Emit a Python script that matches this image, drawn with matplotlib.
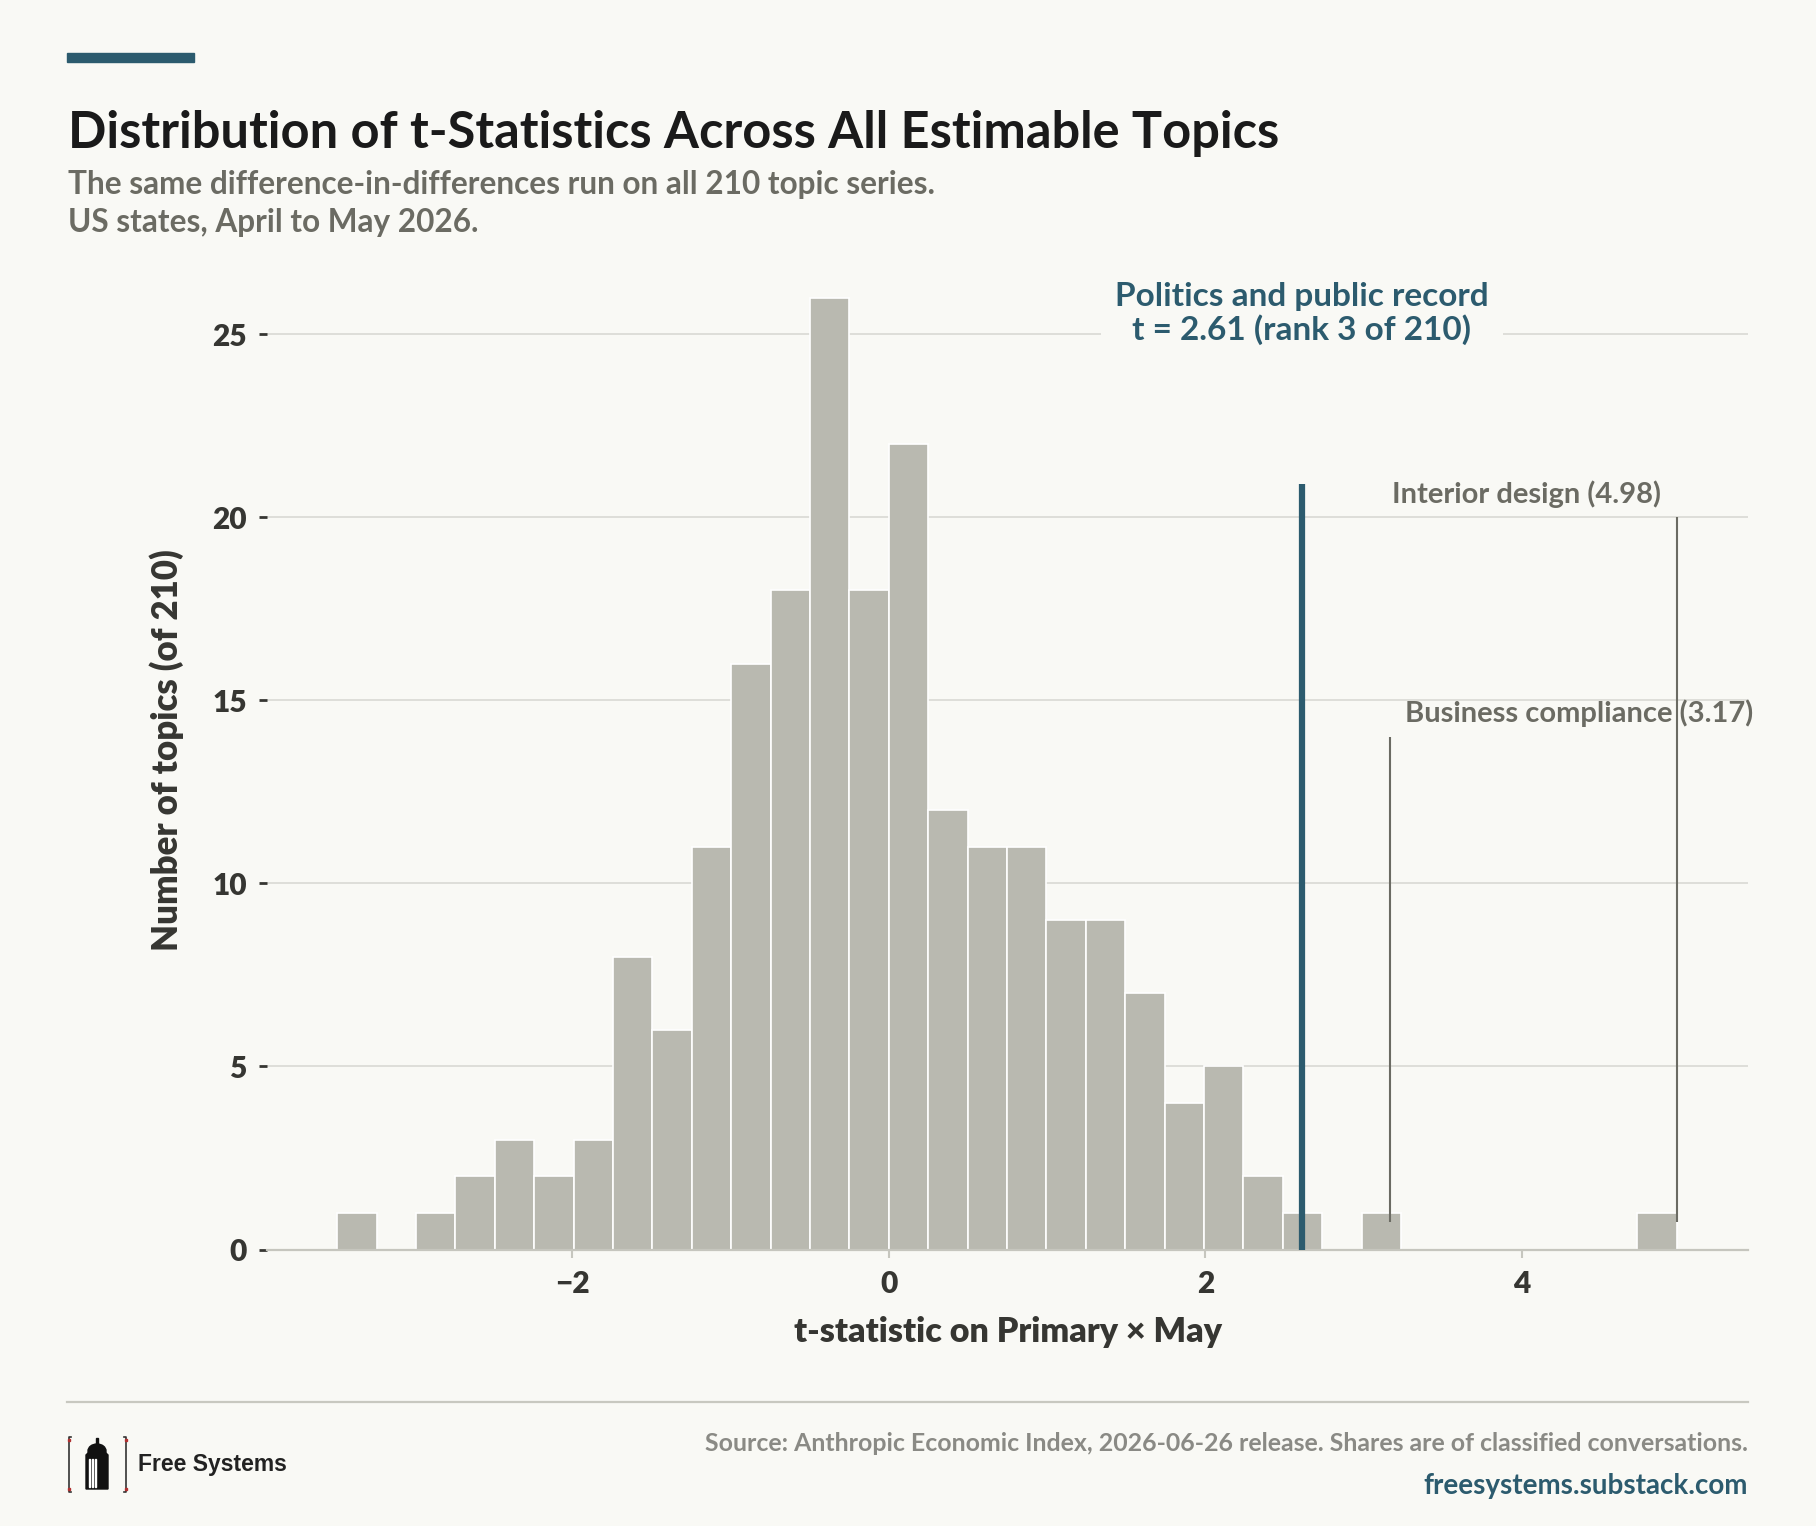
import numpy as np
import matplotlib
matplotlib.use('Agg')
import matplotlib.pyplot as plt
from matplotlib.patches import Rectangle, Polygon, Ellipse

# histogram of t-statistics (34 equal bins between min and max)
t_min, t_max = -3.486, 4.98
counts = [1, 0, 1, 2, 3, 2, 3, 8, 6, 11, 16, 18, 26, 18, 22, 12, 11,
          11, 9, 9, 7, 4, 5, 2, 1, 0, 1, 0, 0, 0, 0, 0, 0, 1]
focus_t = 2.61
focus_label = 'Politics and public record\nt = 2.61 (rank 3 of 210)'
others_t = [3.17, 4.98]
others_top = [14, 20]
others_label = ['Business compliance (3.17)', 'Interior design (4.98)']
others_text_x = [3.26, 3.18]
others_text_y = [14.4, 20.4]
yticks = [0, 5, 10, 15, 20, 25]
xticks = [-2, 0, 2, 4]

BG = '#f9f9f5'
BAR = '#b9b9b0'
TEAL = '#2c5b6e'
GRAY = '#6b6b63'
DARK = '#363632'
GRID = '#dcdcd6'
W, H = 1816, 1526

plt.rcParams['font.family'] = ['Lato', 'DejaVu Sans']
plt.rcParams['font.weight'] = 'bold'
plt.rcParams['axes.labelweight'] = 'bold'

fig = plt.figure(figsize=(W / 100, H / 100), dpi=100, facecolor=BG)


def fx(px):
    return px / W


def fy(py):
    return 1 - py / H


ax = fig.add_axes([fx(267), fy(1249.5), (1748 - 267) / W, (1249.5 - 250) / H])
ax.set_facecolor(BG)

edges = np.linspace(t_min, t_max, len(counts) + 1)
ax.bar(edges[:-1], counts, width=np.diff(edges), align='edge', color=BAR,
       edgecolor='white', linewidth=1.2, zorder=2)

ax.set_xlim(-3.93, 5.43)
ax.set_ylim(0, 27.3)
ax.set_yticks(yticks)
ax.set_xticks(xticks)
ax.set_xticklabels(['\u2212' + str(-v) if v < 0 else str(v) for v in xticks])
for v in yticks[1:]:
    ax.axhline(v, color=GRID, lw=1.3, zorder=1)

for s in ['top', 'right', 'left']:
    ax.spines[s].set_visible(False)
ax.spines['bottom'].set_color('#c6c6be')
ax.spines['bottom'].set_linewidth(1.6)
ax.tick_params(axis='y', length=5.5, width=2, color=DARK, pad=9,
               labelsize=21.5, labelcolor=DARK)
ax.tick_params(axis='x', length=6, width=1.5, color='#c6c6be', pad=9,
               labelsize=21.5, labelcolor=DARK)
for lab in ax.get_xticklabels() + ax.get_yticklabels():
    lab.set_fontweight('heavy')

ax.set_xlabel('t-statistic on Primary \u00d7 May', fontsize=24.5, color=DARK,
              fontweight='heavy', labelpad=13)
ax.set_ylabel('Number of topics (of 210)', fontsize=25, color=DARK,
              fontweight='heavy', labelpad=20)

# highlighted topic
ax.vlines(focus_t, 0, 20.9, color=TEAL, lw=4.5, zorder=4)
ax.text(focus_t, 24.85, focus_label, ha='center', va='baseline', fontsize=24,
        color=TEAL, fontweight='bold', linespacing=1.12, zorder=5,
        bbox=dict(facecolor=BG, edgecolor='none', pad=10))

for t, top, lab, tx, ty in zip(others_t, others_top, others_label,
                               others_text_x, others_text_y):
    ax.vlines(t, 0.75, top, color=GRAY, lw=1.5, zorder=4)
    ax.text(tx, ty, lab, ha='left', va='baseline', fontsize=21, color=GRAY,
            fontweight='bold', zorder=5)

# header
fig.patches.append(Rectangle((fx(67), fy(62)), 127 / W, 9 / H,
                             transform=fig.transFigure, color=TEAL))
fig.text(fx(68), fy(148), 'Distribution of t-Statistics Across All Estimable Topics',
         fontsize=36.4, color='#1a1a1a', fontweight='bold', va='baseline')
fig.text(fx(68), fy(194), 'The same difference-in-differences run on all 210 topic series.',
         fontsize=22.7, color=GRAY, fontweight='bold', va='baseline')
fig.text(fx(68), fy(232), 'US states, April to May 2026.',
         fontsize=22.7, color=GRAY, fontweight='bold', va='baseline')

# footer
fig.lines.append(plt.Line2D([fx(67), fx(1748)], [fy(1402), fy(1402)],
                            transform=fig.transFigure, color='#c8c8c0', lw=1.6))
fig.text(fx(1748), fy(1451), 'Source: Anthropic Economic Index, 2026-06-26 release. '
         'Shares are of classified conversations.',
         fontsize=17.9, color='#8a8a85', fontweight='bold', ha='right', va='baseline')
fig.text(fx(1748), fy(1494), 'freesystems.substack.com', fontsize=20,
         color=TEAL, fontweight='bold', ha='right', va='baseline')
fig.text(fx(138), fy(1471), 'Free Systems', fontsize=16.5, color='#222222',
         family='Liberation Sans', weight='bold', va='baseline')

# small logo
lg = fig.add_axes([fx(66), fy(1495), 63 / W, 62 / H])
lg.set_xlim(0, 63)
lg.set_ylim(0, 62)
lg.axis('off')
lg.plot([5, 3, 3, 5], [58, 58, 3, 3], color='#333333', lw=1.2)
lg.plot([58, 60, 60, 58], [58, 58, 3, 3], color='#333333', lw=1.2)
for px, py in [(3, 55), (3, 6), (60, 55), (60, 6)]:
    lg.plot(px, py, 's', ms=1.5, color='#b03030')
lg.add_patch(Polygon([[20, 6], [20, 40], [24, 44], [38, 44], [42, 40], [42, 6]],
                     closed=True, color='#111111'))
lg.add_patch(Ellipse((31, 44), 18, 14, color='#111111'))
lg.add_patch(Rectangle((30, 50), 2, 7, color='#111111'))
for sx in [23, 26, 29]:
    lg.add_patch(Rectangle((sx, 8), 1.2, 28, color='white'))

fig.savefig('out.png', dpi=100, facecolor=BG)
